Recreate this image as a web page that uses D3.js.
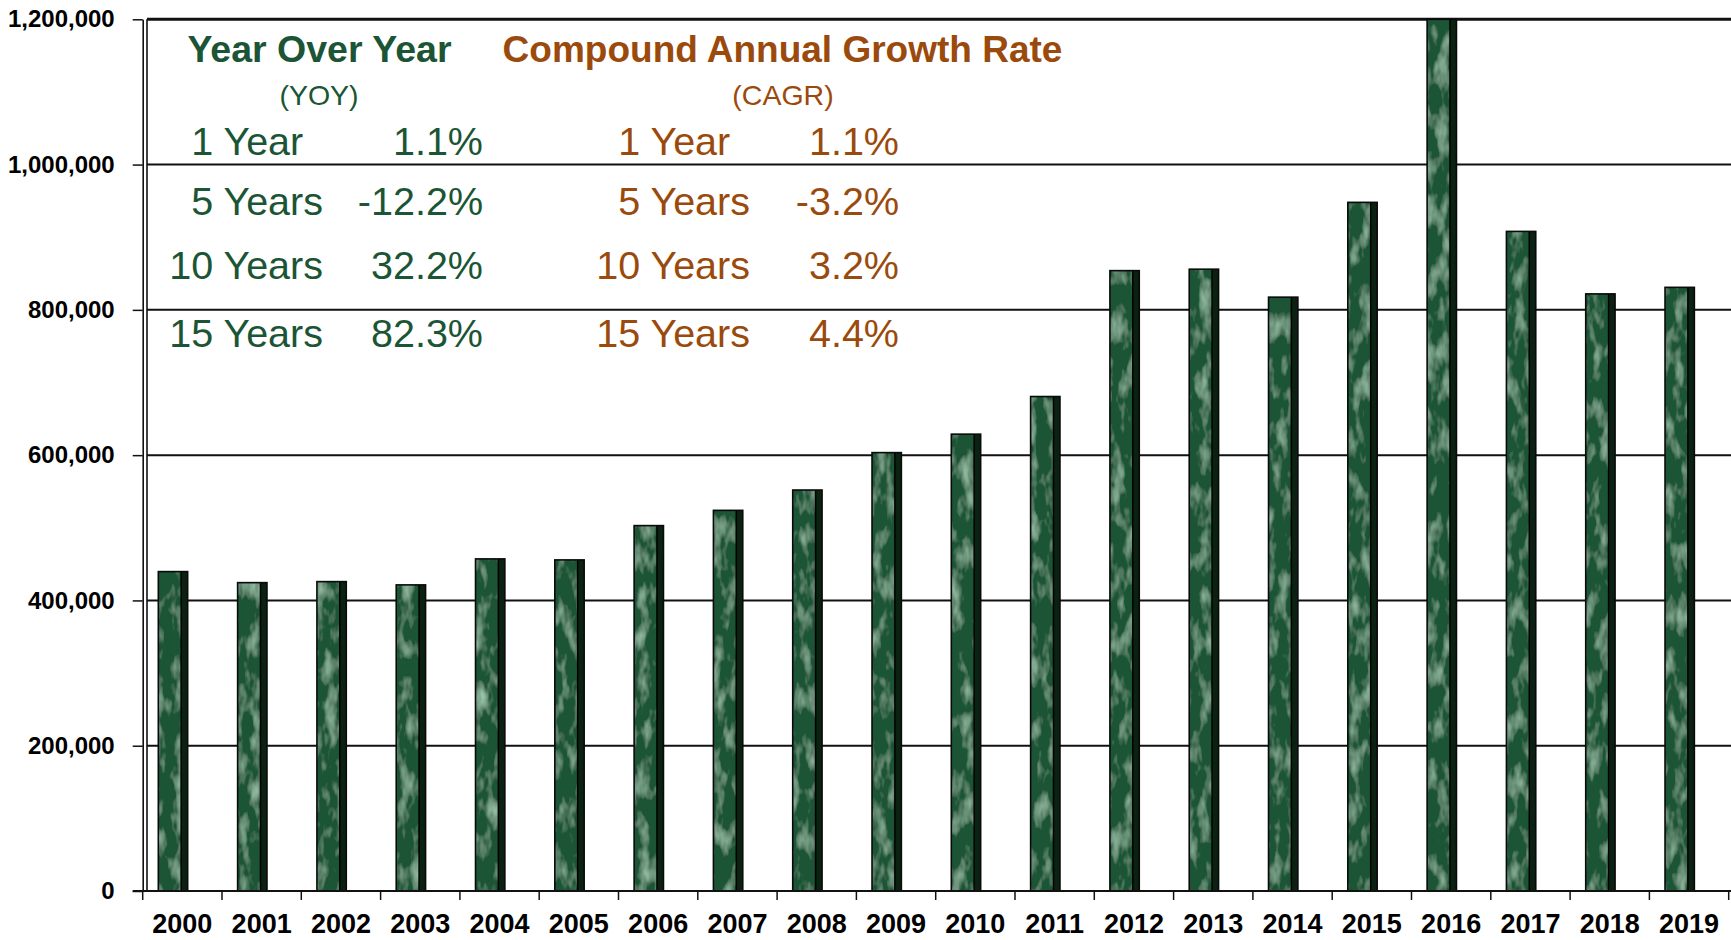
<!DOCTYPE html>
<html lang="en">
    <head>
        <title>Annual totals 2000-2019</title>
        <meta charset="utf-8">
        <script src="https://d3js.org/d3.v7.min.js"></script>
        <style>
            * {
                margin: 0;
                padding: 0;
            }
            body {
                background-color: white;
                width: 1731px;
                height: 940px;
                overflow: hidden;
            }
            text {
                font-family: "Liberation Sans", Arial, sans-serif;
            }
        </style>
    </head>
    <body>
        <main></main>
        <script>

            // data
            const years = ["2000", "2001", "2002", "2003", "2004", "2005", "2006", "2007", "2008", "2009",
                           "2010", "2011", "2012", "2013", "2014", "2015", "2016", "2017", "2018", "2019"];
            const values = [439700, 424500, 425900, 421400, 457200, 455800, 503000, 524000, 552000, 603500,
                            628900, 680700, 854000, 856000, 817500, 948000, 1200000, 908000, 822000, 831000];
            const yTicks = [0, 200000, 400000, 600000, 800000, 1000000, 1200000];

            const periods = ["1 Year", "5 Years", "10 Years", "15 Years"];
            const yoyValues = ["1.1%", "-12.2%", "32.2%", "82.3%"];
            const cagrValues = ["1.1%", "-3.2%", "3.2%", "4.4%"];

            const w = 1731;
            const h = 940;
            const plotLeft = 142.7;
            const plotRight = 1728.7;
            const plotTop = 19.3;
            const plotBottom = 891;

            const green = "#1b5535";
            const brown = "#9b4a0d";

            const svg = d3.select("main")
                .append("svg")
                .attr("width", w)
                .attr("height", h);

            // marble texture for the bars
            const defs = svg.append("defs");
            const f = defs.append("filter")
                .attr("id", "marble")
                .attr("x", 0).attr("y", 0).attr("width", 1).attr("height", 1);
            f.append("feTurbulence")
                .attr("type", "fractalNoise")
                .attr("baseFrequency", "0.08 0.035")
                .attr("numOctaves", 3)
                .attr("seed", 5)
                .attr("result", "noise");
            f.append("feColorMatrix")
                .attr("in", "noise")
                .attr("type", "matrix")
                .attr("values", "0 0 0 0 0.33  0 0 0 0 0.56  0 0 0 0 0.41  0 0 0 2.0 -0.95")
                .attr("result", "streaks");
            f.append("feComposite")
                .attr("in", "streaks")
                .attr("in2", "SourceGraphic")
                .attr("operator", "in")
                .attr("result", "clip");
            const merge = f.append("feMerge");
            merge.append("feMergeNode").attr("in", "SourceGraphic");
            merge.append("feMergeNode").attr("in", "clip");

            const xScale = d3.scaleBand()
                .domain(years)
                .range([plotLeft, plotRight])
                .padding(0);

            const yScale = d3.scaleLinear()
                .domain([0, 1200000])
                .range([plotBottom, plotTop]);

            const step = xScale.step();

            // gridlines
            svg.append("g")
                .selectAll("line")
                .data(yTicks.filter(d => d > 0))
                .enter()
                .append("line")
                .attr("x1", plotLeft + 4.3)
                .attr("x2", w)
                .attr("y1", d => yScale(d))
                .attr("y2", d => yScale(d))
                .attr("stroke", "#111")
                .attr("stroke-width", d => d === 1200000 ? 3 : 2);

            // bars
            const bx = d => xScale(d) + step * 0.197;
            const bw = step * 0.37;
            const sideW = 6.5;

            const bars = svg.append("g")
                .selectAll("g")
                .data(years)
                .enter()
                .append("g");

            bars.append("rect")
                .attr("x", d => bx(d))
                .attr("y", (d, i) => yScale(values[i]))
                .attr("width", bw - sideW)
                .attr("height", (d, i) => plotBottom - yScale(values[i]))
                .attr("fill", "#1f5434")
                .attr("filter", "url(#marble)");

            bars.append("rect")
                .attr("x", d => bx(d) + bw - sideW)
                .attr("y", (d, i) => yScale(values[i]))
                .attr("width", sideW)
                .attr("height", (d, i) => plotBottom - yScale(values[i]))
                .attr("fill", "#0b2213");

            bars.append("line")
                .attr("x1", d => bx(d) + bw - sideW)
                .attr("x2", d => bx(d) + bw - sideW)
                .attr("y1", (d, i) => yScale(values[i]))
                .attr("y2", plotBottom)
                .attr("stroke", "#000")
                .attr("stroke-width", 1.5);

            bars.append("rect")
                .attr("x", d => bx(d))
                .attr("y", (d, i) => yScale(values[i]))
                .attr("width", bw)
                .attr("height", (d, i) => plotBottom - yScale(values[i]))
                .attr("fill", "none")
                .attr("stroke", "#0a0a0a")
                .attr("stroke-width", 1.6);

            // inner wall line of the y axis
            svg.append("line")
                .attr("x1", plotLeft + 4.3).attr("x2", plotLeft + 4.3)
                .attr("y1", plotTop).attr("y2", plotBottom)
                .attr("stroke", "#111")
                .attr("stroke-width", 1.6);

            // y axis
            const yAxis = d3.axisLeft(yScale)
                .tickValues(yTicks)
                .tickFormat(d3.format(","))
                .tickSize(10)
                .tickSizeOuter(0)
                .tickPadding(18);

            const yG = svg.append("g")
                .attr("transform", `translate(${plotLeft}, 0)`)
                .call(yAxis);
            yG.select(".domain").attr("stroke", "#111").attr("stroke-width", 1.6);
            yG.selectAll(".tick line").attr("stroke", "#111").attr("stroke-width", 1.5);
            yG.selectAll("text")
                .attr("fill", "#000")
                .attr("font-size", "24px")
                .attr("font-weight", "bold")
                .attr("font-family", "'Liberation Sans', Arial, sans-serif");

            // x axis: labels under each band, ticks at the band edges
            const xAxis = d3.axisBottom(xScale)
                .tickSize(0)
                .tickSizeOuter(0)
                .tickPadding(23);

            const xG = svg.append("g")
                .attr("transform", `translate(0, ${plotBottom})`)
                .call(xAxis);
            xG.select(".domain").attr("stroke", "#111").attr("stroke-width", 2)
                .attr("d", `M${plotLeft - 10},0H${w}`);
            xG.selectAll("text")
                .attr("fill", "#000")
                .attr("font-size", "27px")
                .attr("font-weight", "bold")
                .attr("font-family", "'Liberation Sans', Arial, sans-serif");

            xG.selectAll("line.edge")
                .data(years.concat(["end"]))
                .enter()
                .append("line")
                .attr("class", "edge")
                .attr("x1", d => d === "end" ? plotRight : xScale(d))
                .attr("x2", d => d === "end" ? plotRight : xScale(d))
                .attr("y1", 0)
                .attr("y2", 9)
                .attr("stroke", "#111")
                .attr("stroke-width", 1.5);

            // growth table
            const rowY = [155, 215, 279, 347];

            const panel = svg.append("g");

            panel.append("text")
                .attr("x", 319.5).attr("y", 62)
                .attr("text-anchor", "middle")
                .attr("font-size", "37.5px")
                .attr("font-weight", "bold")
                .attr("fill", green)
                .text("Year Over Year");

            panel.append("text")
                .attr("x", 319).attr("y", 105)
                .attr("text-anchor", "middle")
                .attr("font-size", "28.5px")
                .attr("fill", green)
                .text("(YOY)");

            panel.append("text")
                .attr("x", 782.5).attr("y", 62)
                .attr("text-anchor", "middle")
                .attr("font-size", "37px")
                .attr("font-weight", "bold")
                .attr("fill", brown)
                .text("Compound Annual Growth Rate");

            panel.append("text")
                .attr("x", 783).attr("y", 105)
                .attr("text-anchor", "middle")
                .attr("font-size", "28.5px")
                .attr("fill", brown)
                .text("(CAGR)");

            const drawColumn = (labelX, valueX, vals, color) => {
                const labels = panel.append("g")
                    .selectAll("text")
                    .data(periods)
                    .enter()
                    .append("text")
                    .attr("x", labelX)
                    .attr("y", (d, i) => rowY[i])
                    .attr("text-anchor", "end")
                    .attr("font-size", "39.5px")
                    .attr("fill", color)
                    .text(d => d);

                // "1 Year" lines up on the left with "5 Years"
                const nodes = labels.nodes();
                const startX = labelX - nodes[1].getComputedTextLength();
                d3.select(nodes[0]).attr("text-anchor", "start").attr("x", startX);

                panel.append("g")
                    .selectAll("text")
                    .data(vals)
                    .enter()
                    .append("text")
                    .attr("x", valueX)
                    .attr("y", (d, i) => rowY[i])
                    .attr("text-anchor", "end")
                    .attr("font-size", "39.5px")
                    .attr("fill", color)
                    .text(d => d);
            };

            drawColumn(323, 483, yoyValues, green);
            drawColumn(750, 899, cagrValues, brown);

        </script>
    </body>
</html>
